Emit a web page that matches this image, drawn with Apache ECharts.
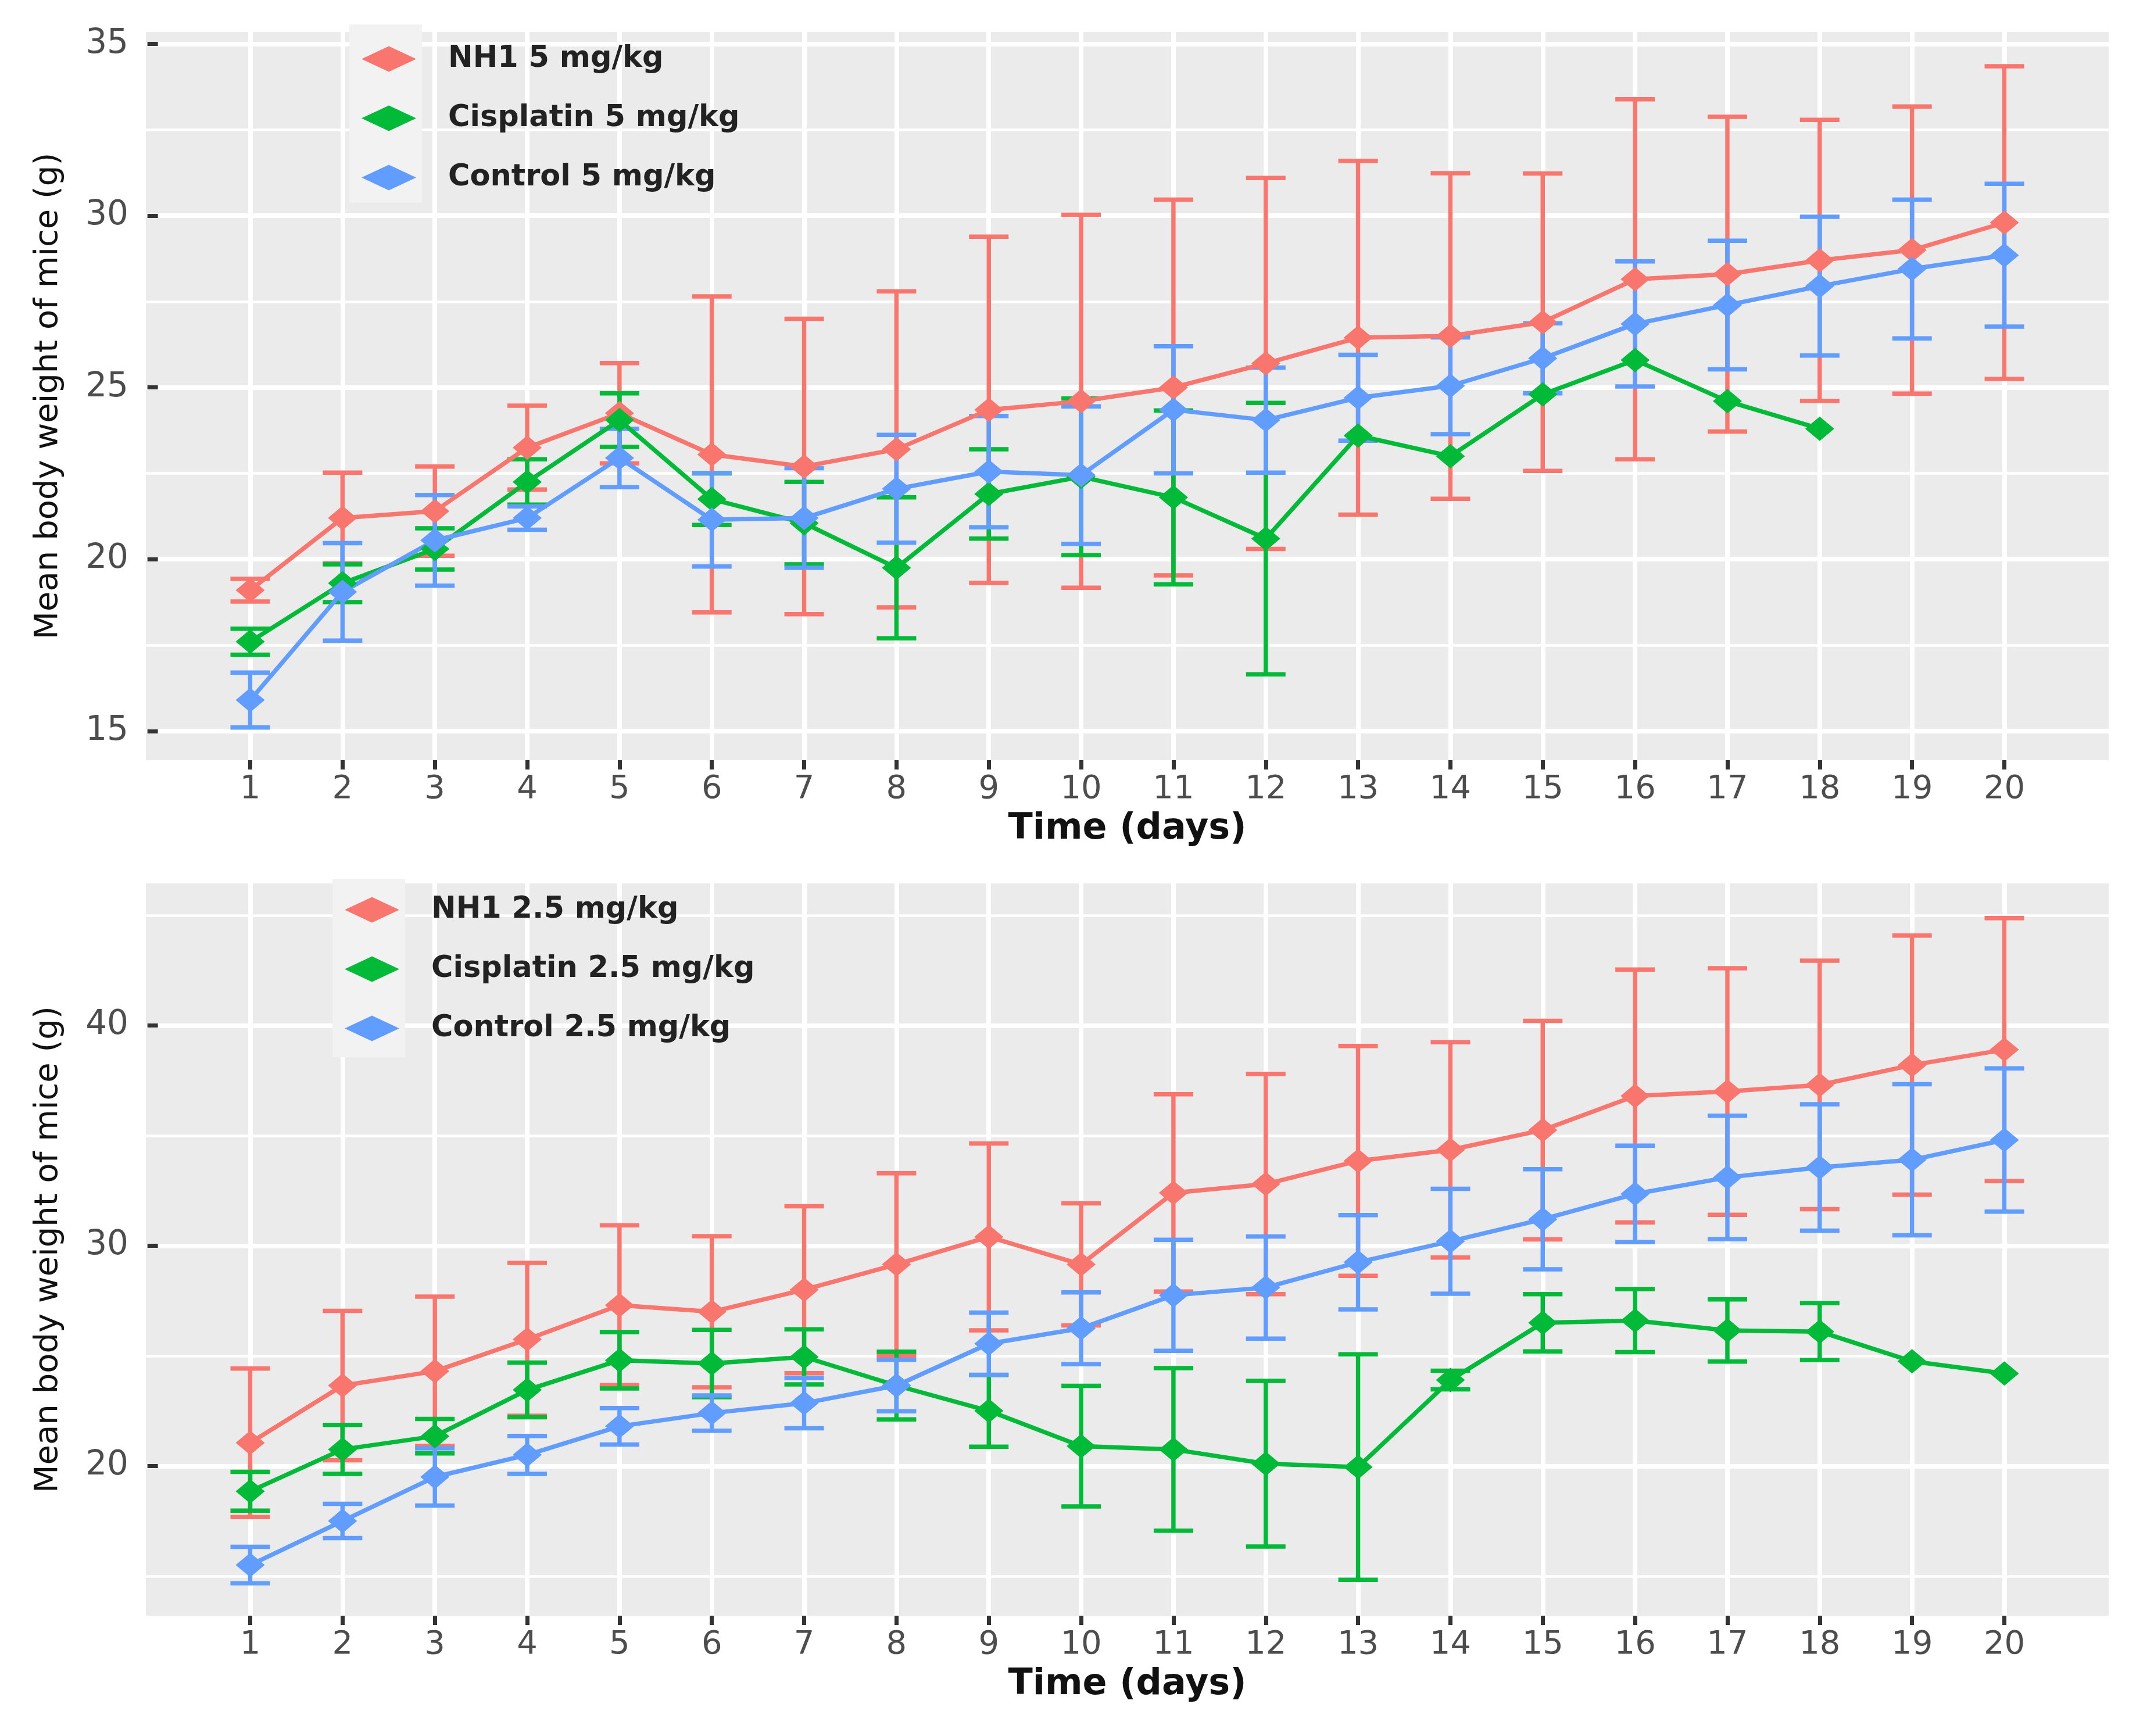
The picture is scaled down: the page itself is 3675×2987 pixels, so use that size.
<!DOCTYPE html>
<html><head><meta charset="utf-8">
<script src="https://cdn.jsdelivr.net/npm/echarts@6/dist/echarts.min.js"></script>
<style>html,body{margin:0;padding:0;background:#fff}#c{width:3675px;height:2987px}</style>
</head><body><div id="c"></div><script>
// ---------- data ----------
const days = [1,2,3,4,5,6,7,8,9,10,11,12,13,14,15,16,17,18,19,20];
const xTickValues = [1,2,3,4,5,6,7,8,9,10,11,12,13,14,15,16,17,18,19,20];
const yTicksTop = [15,20,25,30,35];
const yMinorTop = [17.5,22.5,27.5,32.5];
const yTicksBottom = [20,30,40];
const yMinorBottom = [15,25,35,45];
const namesTop = ['NH1 5 mg/kg','Cisplatin 5 mg/kg','Control 5 mg/kg'];
const namesBottom = ['NH1 2.5 mg/kg','Cisplatin 2.5 mg/kg','Control 2.5 mg/kg'];

// 5 mg/kg panel: mean and SD
const nh1Top    = [19.1,21.2,21.4,23.25,24.25,23.05,22.7,23.2,24.35,24.6,25.0,25.7,26.45,26.5,26.9,28.15,28.3,28.7,29.0,29.8];
const nh1TopSd  = [0.33,1.32,1.3,1.22,1.46,4.6,4.3,4.6,5.04,5.43,5.47,5.4,5.15,4.74,4.33,5.24,4.58,4.09,4.18,4.55];
const cisTop    = [17.6,19.3,20.3,22.25,24.05,21.75,21.05,19.75,21.9,22.4,21.8,20.6,23.6,23.0,24.8,25.8,24.6,23.8,null,null];
const cisTopSd  = [0.38,0.55,0.6,0.66,0.78,0.75,1.2,2.05,1.3,2.28,2.53,3.95,0,0,0,0,0,0,null,null];
const ctrlTop   = [15.9,19.05,20.55,21.2,22.95,21.15,21.2,22.05,22.55,22.45,24.35,24.05,24.7,25.05,25.85,26.85,27.4,27.95,28.45,28.85];
const ctrlTopSd = [0.8,1.42,1.32,0.34,0.85,1.36,1.45,1.57,1.62,2.0,1.85,1.53,1.25,1.41,1.02,1.82,1.87,2.02,2.02,2.08];

// 2.5 mg/kg panel: mean and SD
const nh1Bot    = [21.05,23.65,24.3,25.75,27.3,27.0,28.0,29.15,30.4,29.15,32.4,32.8,33.85,34.35,35.25,36.8,37.0,37.3,38.2,38.9];
const nh1BotSd  = [3.37,3.39,3.39,3.47,3.63,3.43,3.79,4.14,4.24,2.77,4.48,5.0,5.22,4.89,4.96,5.74,5.6,5.64,5.88,5.97];
const cisBot    = [18.85,20.75,21.35,23.45,24.8,24.65,24.95,23.65,22.5,20.9,20.75,20.1,19.95,23.9,26.5,26.6,26.15,26.1,24.75,24.2];
const cisBotSd  = [0.88,1.11,0.78,1.24,1.28,1.53,1.25,1.54,1.63,2.74,3.69,3.76,5.12,0.42,1.3,1.43,1.41,1.29,0,0];
const ctrlBot   = [15.5,17.5,19.5,20.5,21.8,22.4,22.85,23.65,25.55,26.25,27.75,28.1,29.25,30.2,31.2,32.35,33.1,33.55,33.9,34.8];
const ctrlBotSd = [0.83,0.78,1.3,0.86,0.83,0.8,1.14,1.17,1.41,1.63,2.52,2.32,2.14,2.38,2.27,2.19,2.8,2.87,3.43,3.25];

// ---------- styling ----------
const COLORS = ['#F8766D','#00BA38','#619CFF'];
const FONT = 'DejaVu Sans';
const PANEL = '#EBEBEB';

function lineData(mean){ return days.map((d,i)=> mean[i]==null ? [d,null] : [d, mean[i]]); }
function errData(mean, sd){
  const out=[];
  days.forEach((d,i)=>{ if(mean[i]!=null && sd[i]>0) out.push([d, mean[i]-sd[i], mean[i]+sd[i]]); });
  return out;
}
function errRender(color){
  return function(params, api){
    const x = api.value(0), lo = api.value(1), hi = api.value(2);
    const a = api.coord([x, lo]), b = api.coord([x, hi]);
    const hw = 34;
    const st = {stroke: color, lineWidth: 7.5, fill: null};
    return {type:'group', children:[
      {type:'line', shape:{x1:a[0],y1:a[1],x2:b[0],y2:b[1]}, style:st},
      {type:'line', shape:{x1:a[0]-hw,y1:a[1],x2:a[0]+hw,y2:a[1]}, style:st},
      {type:'line', shape:{x1:b[0]-hw,y1:b[1],x2:b[0]+hw,y2:b[1]}, style:st}
    ]};
  };
}

const grids = [
  {left:251, top:55, width:3377, height:1253, show:true, backgroundColor:PANEL, borderWidth:0},
  {left:251, top:1520, width:3377, height:1260, show:true, backgroundColor:PANEL, borderWidth:0}
];

function xAx(gi){
  return {type:'value', gridIndex:gi, min:-0.13, max:21.13,
    name:'Time (days)', nameLocation:'middle', nameGap:88,
    nameTextStyle:{fontFamily:FONT, fontSize:62, fontWeight:'bold', color:'#111'},
    axisLine:{show:false},
    axisTick:{show:true, length:16, customValues:xTickValues, lineStyle:{color:'#333', width:7}},
    axisLabel:{customValues:xTickValues, margin:22, fontFamily:FONT, fontSize:56, color:'#4D4D4D'},
    splitLine:{show:true, lineStyle:{color:'#fff', width:8}}
  };
}
function yAx(gi, min, max, ticks){
  return {type:'value', gridIndex:gi, min:min, max:max,
    name:'Mean body weight of mice (g)', nameLocation:'middle', nameGap:140, nameRotate:90,
    nameTextStyle:{fontFamily:FONT, fontSize:56, color:'#111'},
    axisLine:{show:false},
    axisTick:{show:true, length:18, customValues:ticks, lineStyle:{color:'#333', width:7}},
    axisLabel:{customValues:ticks, margin:30, fontFamily:FONT, fontSize:58, color:'#4D4D4D'},
    splitLine:{show:true, lineStyle:{color:'#fff', width:8}}
  };
}
function yMinorAx(gi, min, max, ticks){
  return {type:'value', gridIndex:gi, min:min, max:max, position:'left',
    axisLine:{show:false}, axisLabel:{show:false},
    axisTick:{show:false, customValues:ticks},
    splitLine:{show:true, lineStyle:{color:'#fff', width:4.5}}
  };
}

const series = [];
function addPanel(gi, yi, names, means, sds){
  means.forEach((m,k)=>{
    series.push({type:'custom', name:names[k]+' SD', xAxisIndex:gi, yAxisIndex:yi,
      renderItem: errRender(COLORS[k]), encode:{x:0, y:[1,2]}, data: errData(m, sds[k]), z:2, silent:true});
  });
  means.forEach((m,k)=>{
    series.push({type:'line', name:names[k], xAxisIndex:gi, yAxisIndex:yi, data: lineData(m),
      symbol:'diamond', symbolSize:[50,42], showSymbol:true, connectNulls:false,
      lineStyle:{color:COLORS[k], width:7.5}, itemStyle:{color:COLORS[k]}, z:3, animation:false});
  });
}
addPanel(0, 0, namesTop, [nh1Top, cisTop, ctrlTop], [nh1TopSd, cisTopSd, ctrlTopSd]);
addPanel(1, 1, namesBottom, [nh1Bot, cisBot, ctrlBot], [nh1BotSd, cisBotSd, ctrlBotSd]);

function legend(names, left, top){
  return {data:names, orient:'vertical', left:left, top:top, itemWidth:94, itemHeight:44, itemGap:51,
    icon:'diamond', z:5,
    lineStyle:{width:7},
    textStyle:{fontFamily:FONT, fontSize:51, fontWeight:'bold', color:'#222', padding:[0,0,0,50]}};
}

const option = {
  animation:false,
  backgroundColor:'#fff',
  grid: grids,
  xAxis:[xAx(0), xAx(1)],
  yAxis:[yAx(0,14.15,35.35,yTicksTop), yAx(1,13.2,46.45,yTicksBottom),
         yMinorAx(0,14.15,35.35,yMinorTop), yMinorAx(1,13.2,46.45,yMinorBottom)],
  legend:[legend(namesTop, 617, 71), legend(namesBottom, 588, 1535)],
  graphic:[
    {type:'rect', left:601, top:42, shape:{width:125, height:307}, style:{fill:'#F2F2F2'}, z:1},
    {type:'rect', left:572, top:1512, shape:{width:125, height:307}, style:{fill:'#F2F2F2'}, z:1}
  ],
  series: series
};
const chart = echarts.init(document.getElementById('c'), null, {renderer:'canvas'});
chart.setOption(option);
</script></body></html>
